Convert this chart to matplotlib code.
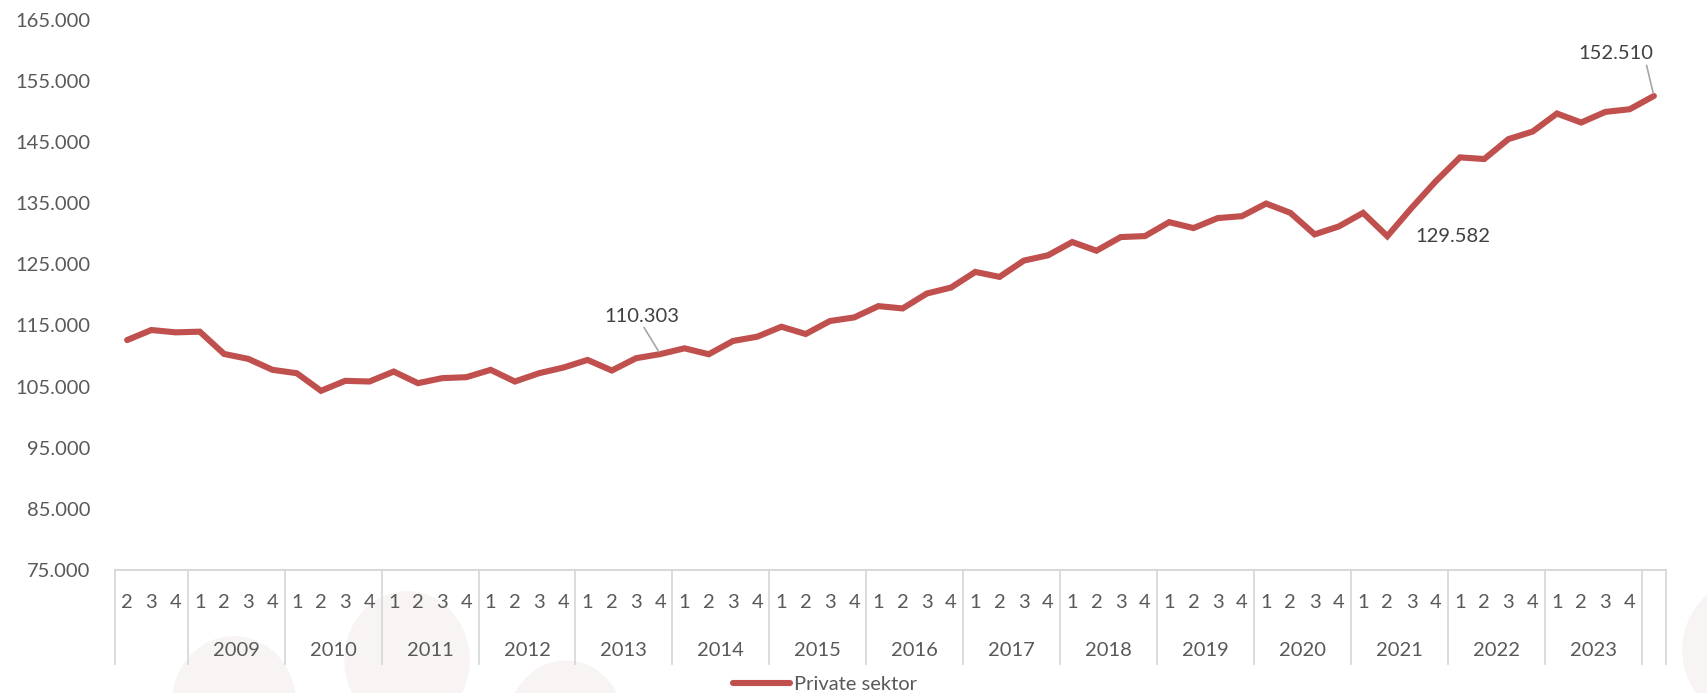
import matplotlib.pyplot as plt
import matplotlib.patches as mpatches
from matplotlib.ticker import FuncFormatter
import numpy as np

plt.rcParams['font.family'] = ['Lato', 'DejaVu Sans']

# quarters: 3 leading quarters, 15 full years, one trailing quarter
quarters = ['2', '3', '4'] + ['1', '2', '3', '4'] * 15 + ['']
years = [str(y) for y in range(2009, 2024)]
values = [112600, 114240, 113860, 113970, 110330, 109520, 107730, 107180,
          104300, 105930, 105820, 107450, 105550, 106370, 106530, 107730,
          105820, 107180, 108100, 109350, 107620, 109630, 110303, 111250,
          110280, 112450, 113150, 114780, 113590, 115710, 116300, 118150,
          117770, 120210, 121190, 123740, 122930, 125590, 126460, 128630,
          127210, 129440, 129600, 131880, 130910, 132540, 132860, 134920,
          133400, 129880, 131180, 133400, 129582, 134200, 138560, 142470,
          142200, 145460, 146700, 149640, 148170, 149910, 150340, 152510]
series_name = 'Private sektor'

W, H = 1707, 693
fig = plt.figure(figsize=(W / 100, H / 100), dpi=100)
ax = fig.add_axes([115 / W, 1 - 570 / H, (1666 - 115) / W, (570 - 19.6) / H])
ax.set_facecolor('none')

# faint watermark circles
for cx, cy, r in [(234, 705, 62), (407, 660, 62), (566, 725, 58), (1745, 650, 62)]:
    fig.patches.append(mpatches.Ellipse((cx / W, 1 - cy / H), 2 * r / W, 2.2 * r / H,
                                        transform=fig.transFigure, color='#f7f4f3',
                                        zorder=-10))

x = np.arange(len(values))
ax.plot(x, values, color='#C0504D', lw=4.4, solid_joinstyle='miter',
        solid_capstyle='round', label=series_name, zorder=3)

ax.set_xlim(-0.5, len(quarters) - 0.5)
ax.set_ylim(75000, 165000)
ax.set_yticks(np.arange(75000, 165001, 10000))
ax.yaxis.set_major_formatter(FuncFormatter(lambda v, p: f'{int(v):,}'.replace(',', '.')))
ax.tick_params(axis='y', length=0, pad=18, labelsize=14.5, labelcolor='#595959')
ax.set_xticks([])

for s in ['top', 'right', 'left']:
    ax.spines[s].set_visible(False)
ax.spines['bottom'].set_color('#d9d9d9')
ax.spines['bottom'].set_linewidth(1.5)

trans = ax.get_xaxis_transform()
axh = 570 - 19.6
for i, q in enumerate(quarters):
    ax.text(i, -32 / axh, q, transform=trans, ha='center', va='center',
            fontsize=14.5, color='#595959')
for k, yr in enumerate(years):
    ax.text(3 + 4 * k + 1.5, -81 / axh, yr, transform=trans, ha='center', va='center',
            fontsize=14.5, color='#595959')

bounds = [-0.5, 2.5] + [2.5 + 4 * (k + 1) for k in range(15)] + [len(quarters) - 0.5]
for b in bounds:
    ax.plot([b, b], [0, -94 / axh], transform=trans, color='#d9d9d9', lw=1.3,
            clip_on=False)

lab_kw = dict(textcoords='offset pixels', fontsize=14.5, color='#404040')
ax.annotate('110.303', (22, values[22]), xytext=(-18, 38), ha='center', va='center',
            arrowprops=dict(arrowstyle='-', color='#a6a6a6', lw=1.2,
                            relpos=(0.5, 0), shrinkA=0, shrinkB=2), **lab_kw)
ax.annotate('129.582', (52, values[52]), xytext=(28, 0), ha='left', va='center', **lab_kw)
ax.annotate('152.510', (63, values[63]), xytext=(-38, 42), ha='center', va='center',
            arrowprops=dict(arrowstyle='-', color='#a6a6a6', lw=1.2,
                            relpos=(0.9, 0), shrinkA=0, shrinkB=2), **lab_kw)

fig.legend(loc='center', bbox_to_anchor=(825 / W, 1 - 684 / H), frameon=False,
           fontsize=14.5, handlelength=2.85, handletextpad=0.2, labelcolor='#595959',
           borderpad=0)

fig.savefig('out.png', dpi=100)
